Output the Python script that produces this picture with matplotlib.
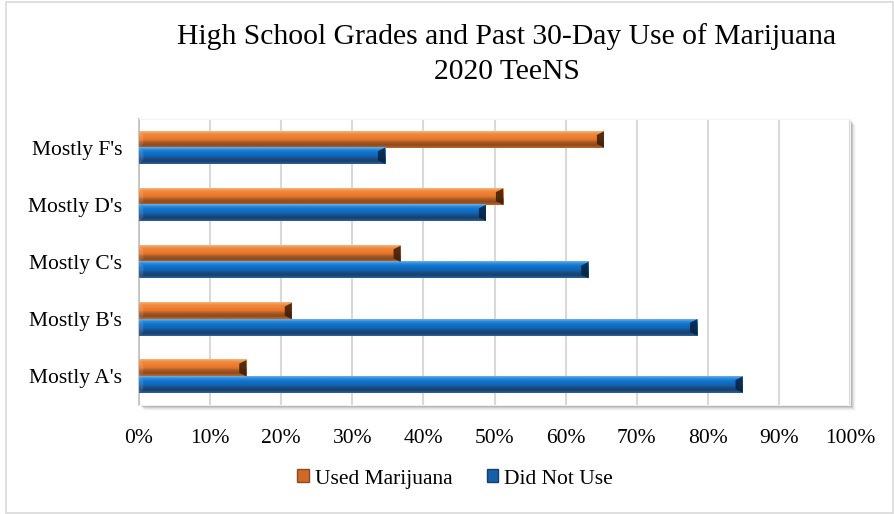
import numpy as np
import matplotlib
matplotlib.use("Agg")
import matplotlib.pyplot as plt
from matplotlib.colors import LinearSegmentedColormap
from matplotlib.patches import Polygon, Rectangle, Patch

# TeeNS 2020: share of students by grade group
grades = ["Mostly A's", "Mostly B's", "Mostly C's", "Mostly D's", "Mostly F's"]
used = [15.1, 21.5, 36.8, 51.2, 65.4]
did_not_use = [84.9, 78.5, 63.2, 48.8, 34.6]
x_ticks = list(range(0, 101, 10))
x_labels = [f"{t}%" for t in x_ticks]

plt.rcParams["font.family"] = ["Liberation Serif", "DejaVu Serif"]
SERIF = "Liberation Serif"

# bevel shading, top to bottom
orange_shade = ["#f9b27a", "#f08a3e", "#ed7d31", "#e5762d", "#a65824", "#8c4a1d", "#c0672b"]
blue_shade = ["#6aaee8", "#1f84d8", "#0f70c8", "#0e68bb", "#1c4f86", "#173f6b", "#2a64a0"]


def bevel_bars(ax, bars, shades, dark):
    cmap = LinearSegmentedColormap.from_list("bev", shades)
    grad = np.linspace(0, 1, 64).reshape(-1, 1)
    for b in bars:
        x0, y0 = b.get_x(), b.get_y()
        w, h = b.get_width(), b.get_height()
        ax.imshow(grad, cmap=cmap, extent=[x0, x0 + w, y0, y0 + h],
                  aspect="auto", origin="upper", zorder=3, interpolation="bilinear")
        d = 1.0
        ax.add_patch(Polygon([(x0 + w - d, y0 + 0.22 * h), (x0 + w, y0),
                              (x0 + w, y0 + h), (x0 + w - d, y0 + 0.78 * h)],
                             closed=True, facecolor=dark, alpha=0.85, lw=0, zorder=4))
        ax.add_patch(Polygon([(x0, y0), (x0 + 0.6 * d, y0 + 0.22 * h),
                              (x0 + 0.6 * d, y0 + 0.78 * h), (x0, y0 + h)],
                             closed=True, facecolor="white", alpha=0.12, lw=0, zorder=4))


fig = plt.figure(figsize=(8.95, 5.14), dpi=100)
fig.patch.set_facecolor("white")

# outer chart border
fig.add_artist(Rectangle((6 / 895, 1 / 514), 887 / 895, 511 / 514, transform=fig.transFigure,
                         fill=False, edgecolor="#d9d9d9", lw=1.2))

ax = fig.add_axes([139 / 895, 109 / 514, 711 / 895, 286 / 514])

# soft drop shadow under the plot area
for i, a in enumerate([0.12, 0.09, 0.06, 0.04, 0.02]):
    off = 2 + i
    fig.add_artist(Rectangle(((139 + off) / 895, (109 - off) / 514), 711 / 895, 286 / 514,
                             transform=fig.transFigure, facecolor="black", alpha=a,
                             lw=0, zorder=0))
ax.set_zorder(1)

y = np.arange(len(grades))
bh = 0.285
b_used = ax.barh(y + bh / 2, used, height=bh, color="#ed7d31", zorder=2)
b_not = ax.barh(y - bh / 2, did_not_use, height=bh, color="#0f70c8", zorder=2)
bevel_bars(ax, b_used, orange_shade, "#3a1c08")
bevel_bars(ax, b_not, blue_shade, "#0a2140")

ax.set_xlim(0, 100)
ax.set_ylim(-0.5, len(grades) - 0.5)
ax.set_xticks(x_ticks)
ax.set_xticklabels(x_labels, fontsize=15.5, family=SERIF)
ax.set_yticks(y)
ax.set_yticklabels(grades, fontsize=15.5, family=SERIF)
ax.tick_params(length=0, pad=12, axis="y")
ax.tick_params(length=0, pad=17, axis="x")
ax.grid(axis="x", color="#d9d9d9", lw=1.5, zorder=0)
ax.set_axisbelow(True)
for s in ["top", "right", "bottom"]:
    ax.spines[s].set_color("#f2f2f2")
ax.spines["left"].set_color("#bfbfbf")
ax.spines["left"].set_linewidth(1.2)

fig.text(507 / 895, 1 - 37 / 514, "High School Grades and Past 30-Day Use of Marijuana",
         ha="center", va="center", fontsize=21.3, family=SERIF)
fig.text(507 / 895, 1 - 72 / 514, "2020 TeeNS", ha="center", va="center",
         fontsize=21.3, family=SERIF)

handles = [Patch(facecolor="#d06a28", edgecolor="#8c4a1d", label="Used Marijuana"),
           Patch(facecolor="#1560a8", edgecolor="#173f6b", label="Did Not Use")]
fig.legend(handles=handles, loc="center", bbox_to_anchor=(455 / 895, 1 - 479 / 514), ncol=2,
           frameon=False, prop={"family": SERIF, "size": 15.5}, handlelength=0.55,
           handleheight=0.55, handletextpad=0.25, columnspacing=1.6)

fig.savefig("out.png", dpi=100)
